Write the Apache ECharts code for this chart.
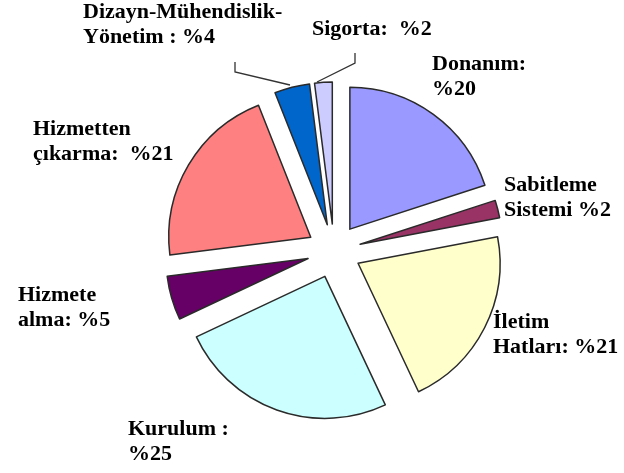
<!DOCTYPE html>
<html>
<head>
<meta charset="utf-8">
<script src="https://cdn.jsdelivr.net/npm/echarts@6/dist/echarts.min.js"></script>
<style>
  html, body { margin: 0; padding: 0; background: #fff; }
  #chart { width: 624px; height: 473px; }
</style>
</head>
<body>
<div id="chart"></div>
<script>
// Cost breakdown (percent), clockwise from 12 o'clock
const categories = ['Donanım', 'Sabitleme Sistemi', 'İletim Hatları', 'Kurulum', 'Hizmete alma', 'Hizmetten çıkarma', 'Dizayn-Mühendislik-Yönetim', 'Sigorta'];
const values = [20, 2, 21, 25, 5, 21, 4, 2];
const labelPrefix = ['Donanım:\n', 'Sabitleme\nSistemi ', 'İletim\nHatları: ', 'Kurulum :\n', 'Hizmete\nalma: ', 'Hizmetten\nçıkarma:  ', 'Dizayn-Mühendislik-\nYönetim : ', 'Sigorta:  '];

const colors = ['#9999ff', '#993366', '#ffffcc', '#ccffff', '#660066', '#ff8080', '#0066cc', '#ccccff'];

// label anchors (top-left of each text block)
const labelPos = [[432, 52], [504, 173], [493, 310], [128, 417], [18, 283], [33, 117], [83, 0], [312, 17]];
// leader lines for the two thin top slices
const leaders = [
  [[290, 85], [235, 72], [235, 62]],
  [[317, 82], [355, 63], [355, 53]]
];

const labelFont = 'bold 22px "Liberation Serif", "Times New Roman", serif';

const graphics = [];
leaders.forEach(pts => {
  graphics.push({
    type: 'polyline',
    shape: { points: pts },
    style: { stroke: '#333', lineWidth: 1.3, fill: null },
    silent: true
  });
});
categories.forEach((name, i) => {
  graphics.push({
    type: 'text',
    x: labelPos[i][0],
    y: labelPos[i][1],
    style: {
      text: labelPrefix[i] + '%' + values[i],
      font: labelFont,
      lineHeight: 25,
      fill: '#000',
      align: 'left',
      verticalAlign: 'top'
    },
    silent: true
  });
});

const chart = echarts.init(document.getElementById('chart'));
chart.setOption({
  animation: false,
  graphic: graphics,
  series: [{
    type: 'pie',
    center: [334, 251],
    radius: [0, 142],
    startAngle: 90,
    clockwise: true,
    selectedMode: 'multiple',
    selectedOffset: 27,
    emphasis: { disabled: true },
    itemStyle: { borderColor: '#2a2a2a', borderWidth: 1.5 },
    label: { show: false },
    labelLine: { show: false },
    data: categories.map((name, i) => ({
      name,
      value: values[i],
      selected: true,
      itemStyle: { color: colors[i] }
    }))
  }]
});
</script>
</body>
</html>
